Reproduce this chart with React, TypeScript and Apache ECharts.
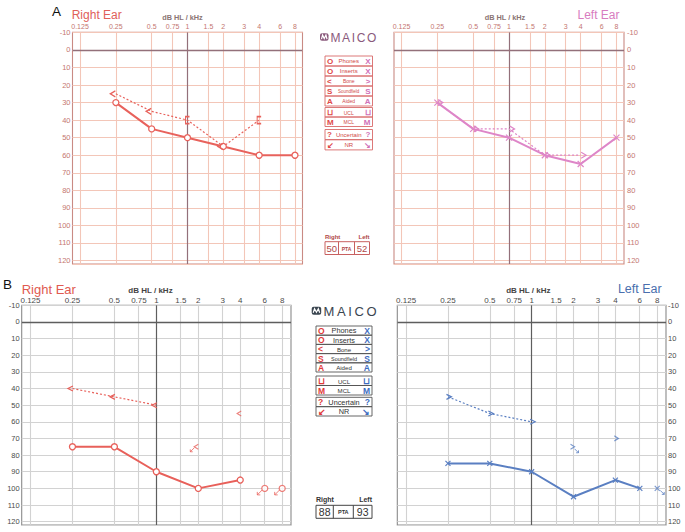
import React, { useEffect, useRef } from 'react';
import * as echarts from 'echarts';

// ---------- axis ticks ----------
const FREQ_TICKS = [0.125, 0.25, 0.5, 0.75, 1, 1.5, 2, 3, 4, 6, 8];
const FREQ_TICK_LABELS = ['0.125', '0.25', '0.5', '0.75', '1', '1.5', '2', '3', '4', '6', '8'];

// ---------- Panel A ----------
const A_RIGHT_AIR_FREQ = [0.25, 0.5, 1, 2, 4, 8];
const A_RIGHT_AIR_DB = [30, 45, 50, 55, 60, 60];
const A_RIGHT_BONE_FREQ = [0.25, 0.5, 1, 2, 4];
const A_RIGHT_BONE_DB = [25, 35, 40, 55, 40];
const A_RIGHT_BONE_MASKED = [false, false, true, false, true];
const A_LEFT_AIR_FREQ = [0.25, 0.5, 1, 2, 4, 8];
const A_LEFT_AIR_DB = [30, 45, 50, 60, 65, 50];
const A_LEFT_BONE_FREQ = [0.25, 0.5, 1, 2, 4];
const A_LEFT_BONE_DB = [30, 45, 45, 60, 60];
const A_PTA = ['50', '52'];

// ---------- Panel B ----------
const B_RIGHT_AIR_FREQ = [0.25, 0.5, 1, 2, 4];
const B_RIGHT_AIR_DB = [75, 75, 90, 100, 95];
const B_RIGHT_AIR_NR_FREQ = [6, 8];
const B_RIGHT_AIR_NR_DB = [100, 100];
const B_RIGHT_BONE_FREQ = [0.25, 0.5, 1];
const B_RIGHT_BONE_DB = [40, 45, 50];
const B_RIGHT_BONE_SINGLE_FREQ = [4];
const B_RIGHT_BONE_SINGLE_DB = [55];
const B_RIGHT_BONE_NR_FREQ = [2];
const B_RIGHT_BONE_NR_DB = [75];
const B_LEFT_AIR_FREQ = [0.25, 0.5, 1, 2, 4, 6];
const B_LEFT_AIR_DB = [85, 85, 90, 105, 95, 100];
const B_LEFT_AIR_NR_FREQ = [8];
const B_LEFT_AIR_NR_DB = [100];
const B_LEFT_BONE_FREQ = [0.25, 0.5, 1];
const B_LEFT_BONE_DB = [45, 55, 60];
const B_LEFT_BONE_SINGLE_FREQ = [4];
const B_LEFT_BONE_SINGLE_DB = [70];
const B_LEFT_BONE_NR_FREQ = [2];
const B_LEFT_BONE_NR_DB = [75];
const B_PTA = ['88', '93'];

// ---------- legend ----------
const LEGEND_LEFT = ['O', 'O', '<', 'S', 'A', '⊔', 'M', '?', '↙'];
const LEGEND_MID = ['Phones', 'Inserts', 'Bone', 'Soundfield', 'Aided', 'UCL', 'MCL', 'Uncertain', 'NR'];
const LEGEND_RIGHT = ['X', 'X', '>', 'S', 'A', '⊔', 'M', '?', '↘'];
const LEGEND_GROUP_SIZES = [5, 2, 2];
const LEGEND_MID_SIZES = [6, 6, 5, 4.5, 5, 5, 5, 6, 6];

const FONT = '"Liberation Sans", Arial, sans-serif';
const X_MIN = -3.21;
const X_MAX = 3.21;
const L2 = (f: number) => Math.log2(f);
const pts = (fs: number[], ds: number[]) => fs.map((f, i) => [L2(f), ds[i]]);

const SYM = {
  x: 'path://M0,0L10,10M10,0L0,10',
  lt: 'path://M10,0L0,5L10,10',
  gt: 'path://M0,0L10,5L0,10',
  br: 'path://M8,0L0,0L0,10L8,10',
  arrowSW: 'path://M10,0L0,10M0,4L0,10L6,10',
  arrowSE: 'path://M0,0L10,10M10,4L10,10L4,10',
};

const THEME_A = { grid: '#f3c6b8', frame: '#c98a84', dark: '#93707a', label: '#c47670' };
const THEME_B = { grid: '#d2d2d2', frame: '#8a8a8a', dark: '#5e5e5e', label: '#4a4a4a' };

const RED_A = '#e8625c';
const PINK_A = '#de86c8';
const RED_B = '#e8605a';
const BLUE_B = '#5a7fc2';

const GRIDS = [
  { left: 72.5, top: 32.4, width: 230, height: 231.6, th: THEME_A, side: 'left', xFont: 7, yFont: 7.5, xMargin: 2, yMargin: 2 },
  { left: 394, top: 32.4, width: 230, height: 231.6, th: THEME_A, side: 'right', xFont: 7, yFont: 7.5, xMargin: 2, yMargin: 3 },
  { left: 21.7, top: 305.3, width: 269.3, height: 219.7, th: THEME_B, side: 'left', xFont: 8, yFont: 7.5, xMargin: 1, yMargin: 2 },
  { left: 397.3, top: 305.3, width: 268.7, height: 219.7, th: THEME_B, side: 'right', xFont: 8, yFont: 7.5, xMargin: 1, yMargin: 2 },
];

function T(text: string, x: number, y: number, size: number, fill: string, opts: any = {}) {
  const align = opts.align || 'left';
  return {
    type: 'text', x, y, silent: true, z: 10,
    style: {
      text, fontSize: size, fill, fontFamily: opts.family || FONT,
      fontWeight: opts.bold ? 'bold' : 'normal',
      align, verticalAlign: 'middle', textAlign: align, textVerticalAlign: 'middle',
    },
  };
}
function R(x: number, y: number, w: number, h: number, stroke: string, lw = 1) {
  return { type: 'rect', silent: true, z: 10, shape: { x, y, width: w, height: h }, style: { stroke, lineWidth: lw, fill: 'none' } };
}

const LETTER_W: any = { M: 0.833, A: 0.667, I: 0.278, C: 0.722, O: 0.778 };
function logo(ix: number, iy: number, iw: number, ih: number, tx: number, size: number, spacing: number, color: string) {
  const els: any[] = [];
  els.push({ type: 'rect', silent: true, z: 10, shape: { x: ix, y: iy, width: iw, height: ih, r: 2 }, style: { fill: color } });
  const my = iy + ih / 2;
  els.push({
    type: 'polyline', silent: true, z: 11,
    shape: { points: [[ix + 1.5, my + 2], [ix + iw * 0.3, my - 2], [ix + iw * 0.5, my + 1.5], [ix + iw * 0.7, my - 2], [ix + iw - 1.5, my + 2]] },
    style: { stroke: '#fff', lineWidth: 1.2, fill: 'none' },
  });
  let cx = tx;
  'MAICO'.split('').forEach((l) => {
    els.push(T(l, cx, my + 0.5, size, color));
    cx += LETTER_W[l] * size + spacing;
  });
  return els;
}

function legendEls(c: any) {
  const els: any[] = [];
  let row = 0;
  LEGEND_GROUP_SIZES.forEach((n, gi) => {
    const g = c.groups[gi];
    for (let k = 0; k < n; k++) {
      const i = row++;
      const y = g.y + k * g.h;
      const cy = y + g.h / 2 + 0.3;
      els.push(R(c.x, y, c.w, g.h, c.border, 0.9));
      els.push(T(LEGEND_LEFT[i], c.x + 2, cy, c.sym, c.left, { bold: true }));
      els.push(T(LEGEND_MID[i], c.x + c.w / 2, cy, LEGEND_MID_SIZES[i] * c.midScale, c.midColor, { align: 'center' }));
      els.push(T(LEGEND_RIGHT[i], c.x + c.w - 2, cy, c.sym, c.right, { bold: true, align: 'right' }));
    }
  });
  return els;
}

function ptaEls(c: any, vals: string[]) {
  const els: any[] = [];
  els.push(T('Right', c.x, c.ly, c.lsize, c.text, { bold: true }));
  els.push(T('Left', c.x + c.w, c.ly, c.lsize, c.text, { bold: true, align: 'right' }));
  els.push(R(c.x, c.y, c.w, c.h, c.border, 1));
  els.push({ type: 'line', silent: true, z: 10, shape: { x1: c.d1, y1: c.y, x2: c.d1, y2: c.y + c.h }, style: { stroke: c.border, lineWidth: 1 } });
  els.push({ type: 'line', silent: true, z: 10, shape: { x1: c.d2, y1: c.y, x2: c.d2, y2: c.y + c.h }, style: { stroke: c.border, lineWidth: 1 } });
  const cy = c.y + c.h / 2 + 0.5;
  els.push(T(vals[0], (c.x + c.d1) / 2, cy, c.nsize, c.text, { align: 'center' }));
  els.push(T('PTA', (c.d1 + c.d2) / 2, cy, c.psize, c.text, { align: 'center', bold: true }));
  els.push(T(vals[1], (c.d2 + c.x + c.w) / 2, cy, c.nsize, c.text, { align: 'center' }));
  return els;
}

function gridLinesSeries(idx: number, th: any) {
  const data: any[] = FREQ_TICKS.map((f) => ({
    xAxis: L2(f),
    lineStyle: { color: f === 1 ? th.dark : th.grid, width: f === 1 ? 1.2 : 1.1, type: 'solid' },
  }));
  data.push({ yAxis: 0, lineStyle: { color: th.dark, width: 1.4, type: 'solid' } });
  return {
    type: 'line', xAxisIndex: idx, yAxisIndex: idx, data: [], z: 1, silent: true,
    markLine: { z: 1, silent: true, animation: false, symbol: ['none', 'none'], label: { show: false }, lineStyle: { type: 'solid' }, data },
  };
}

function lineSeries(idx: number, data: any[], color: string, width: number, dashed: boolean, symbol: string, size: any, offset: number[], itemStyle: any) {
  return {
    type: 'line', xAxisIndex: idx, yAxisIndex: idx, z: 3, data,
    symbol, symbolSize: size, symbolOffset: offset, showAllSymbol: true,
    lineStyle: { color, width, type: dashed ? [2, 2] : 'solid' },
    itemStyle,
  };
}
function scatterSeries(idx: number, data: any[], symbol: string, size: any, offset: number[], itemStyle: any) {
  return { type: 'scatter', xAxisIndex: idx, yAxisIndex: idx, z: 3, data, symbol, symbolSize: size, symbolOffset: offset, itemStyle };
}
const strokeStyle = (c: string, w = 1.2) => ({ color: 'none', borderColor: c, borderWidth: w });
const circleStyle = (c: string) => ({ color: '#fff', borderColor: c, borderWidth: 1.3 });

function buildOption() {
  const xLabelFmt = (v: number) => {
    const i = FREQ_TICKS.findIndex((f) => Math.abs(L2(f) - v) < 1e-3);
    return i >= 0 ? FREQ_TICK_LABELS[i] : '';
  };
  const grid = GRIDS.map((g) => ({
    left: g.left, top: g.top, width: g.width, height: g.height,
    show: true, borderColor: g.th.frame, borderWidth: 1.1, backgroundColor: 'transparent',
  }));
  const xAxis = GRIDS.map((g, i) => ({
    type: 'value', gridIndex: i, position: 'top', min: X_MIN, max: X_MAX,
    axisLine: { show: false }, axisTick: { show: false }, splitLine: { show: false },
    axisLabel: { customValues: FREQ_TICKS.map(L2), formatter: xLabelFmt, fontSize: g.xFont, color: g.th.label, margin: g.xMargin, fontFamily: FONT },
  }));
  const yAxis = GRIDS.map((g, i) => ({
    type: 'value', gridIndex: i, position: g.side, inverse: true, min: -10, max: 122, interval: 10,
    axisLine: { show: false }, axisTick: { show: false },
    axisLabel: { formatter: (v: number) => (v % 10 === 0 ? String(v) : ''), fontSize: g.yFont, color: g.th.label, margin: g.yMargin, fontFamily: FONT },
    splitLine: { show: true, lineStyle: { color: g.th.grid, width: 1.1 } },
  }));

  const aRightBone = A_RIGHT_BONE_FREQ.map((f, i) =>
    A_RIGHT_BONE_MASKED[i]
      ? { value: [L2(f), A_RIGHT_BONE_DB[i]], symbol: SYM.br, symbolSize: [4, 7], symbolOffset: [0, 0] }
      : { value: [L2(f), A_RIGHT_BONE_DB[i]] });

  const series: any[] = [
    ...GRIDS.map((g, i) => gridLinesSeries(i, g.th)),
    // Panel A right
    lineSeries(0, pts(A_RIGHT_AIR_FREQ, A_RIGHT_AIR_DB), RED_A, 2, false, 'circle', 6, [0, 0], circleStyle(RED_A)),
    lineSeries(0, aRightBone, RED_A, 1.2, true, SYM.lt, [5, 6], [-3, 0], strokeStyle(RED_A, 1.3)),
    // Panel A left
    lineSeries(1, pts(A_LEFT_AIR_FREQ, A_LEFT_AIR_DB), PINK_A, 2, false, SYM.x, 6, [0, 0], strokeStyle(PINK_A)),
    lineSeries(1, pts(A_LEFT_BONE_FREQ, A_LEFT_BONE_DB), PINK_A, 1.2, true, SYM.gt, [5, 6], [3, 0], strokeStyle(PINK_A)),
    // Panel B right
    lineSeries(2, pts(B_RIGHT_AIR_FREQ, B_RIGHT_AIR_DB), RED_B, 2, false, 'circle', 6, [0, 0], circleStyle(RED_B)),
    scatterSeries(2, pts(B_RIGHT_AIR_NR_FREQ, B_RIGHT_AIR_NR_DB), 'circle', 6, [0, 0], circleStyle(RED_B)),
    scatterSeries(2, pts(B_RIGHT_AIR_NR_FREQ, B_RIGHT_AIR_NR_DB), SYM.arrowSW, 5, [-5, 4], strokeStyle(RED_B, 1)),
    lineSeries(2, pts(B_RIGHT_BONE_FREQ, B_RIGHT_BONE_DB), RED_B, 1.2, true, SYM.lt, [5, 5], [-2, 0], strokeStyle(RED_B)),
    scatterSeries(2, pts(B_RIGHT_BONE_SINGLE_FREQ, B_RIGHT_BONE_SINGLE_DB), SYM.lt, [4, 5], [-1, 0], strokeStyle(RED_B)),
    scatterSeries(2, pts(B_RIGHT_BONE_NR_FREQ, B_RIGHT_BONE_NR_DB), SYM.lt, [4, 5], [-2, 0], strokeStyle(RED_B)),
    scatterSeries(2, pts(B_RIGHT_BONE_NR_FREQ, B_RIGHT_BONE_NR_DB), SYM.arrowSW, 4, [-6, 3], strokeStyle(RED_B, 1)),
    // Panel B left
    lineSeries(3, pts(B_LEFT_AIR_FREQ, B_LEFT_AIR_DB), BLUE_B, 2, false, SYM.x, 5, [0, 0], strokeStyle(BLUE_B)),
    scatterSeries(3, pts(B_LEFT_AIR_NR_FREQ, B_LEFT_AIR_NR_DB), SYM.x, 5, [0, 0], strokeStyle(BLUE_B)),
    scatterSeries(3, pts(B_LEFT_AIR_NR_FREQ, B_LEFT_AIR_NR_DB), SYM.arrowSE, 4, [5, 4], strokeStyle(BLUE_B, 1)),
    lineSeries(3, pts(B_LEFT_BONE_FREQ, B_LEFT_BONE_DB), BLUE_B, 1.2, true, SYM.gt, [5, 5], [1, 0], strokeStyle(BLUE_B)),
    scatterSeries(3, pts(B_LEFT_BONE_SINGLE_FREQ, B_LEFT_BONE_SINGLE_DB), SYM.gt, [4, 5], [1, 0], strokeStyle(BLUE_B)),
    scatterSeries(3, pts(B_LEFT_BONE_NR_FREQ, B_LEFT_BONE_NR_DB), SYM.gt, [4, 5], [-1, 0], strokeStyle(BLUE_B)),
    scatterSeries(3, pts(B_LEFT_BONE_NR_FREQ, B_LEFT_BONE_NR_DB), SYM.arrowSE, 4, [3, 4], strokeStyle(BLUE_B, 1)),
  ];

  const graphic: any[] = [
    // Panel A headings
    T('A', 52, 11, 13.5, '#111'),
    T('Right Ear', 71.7, 15, 12, '#e0605a'),
    T('dB HL / kHz', 182.5, 17, 7.3, '#8a7474', { align: 'center', bold: true }),
    T('dB HL / kHz', 505, 17, 7.3, '#8a7474', { align: 'center', bold: true }),
    T('Left Ear', 619.5, 15, 12, '#d87cc0', { align: 'right' }),
    // Panel B headings
    T('B', 3, 284.5, 13.5, '#111'),
    T('Right Ear', 21.7, 289, 13, '#e05a50'),
    T('dB HL / kHz', 150.5, 290.5, 8, '#444', { align: 'center', bold: true }),
    T('dB HL / kHz', 528.3, 290.5, 8, '#444', { align: 'center', bold: true }),
    T('Left Ear', 661.7, 288.5, 12.5, '#4a6fae', { align: 'right' }),
    // logos
    ...logo(320, 33.3, 8.5, 7.5, 330.5, 12, 1.6, '#8a5a7c'),
    ...logo(311.7, 306.8, 9.5, 8, 323.5, 13, 2.6, '#3a4550'),
    // legends
    ...legendEls({
      x: 325, w: 47.5, border: '#d86a6a', left: '#e04848', right: '#d070b8', midColor: '#d04848', sym: 8, midScale: 1,
      groups: [{ y: 56, h: 10 }, { y: 107.5, h: 9.5 }, { y: 129.5, h: 10.2 }],
    }),
    ...legendEls({
      x: 316, w: 56, border: '#555', left: '#e03a3a', right: '#3d6cc0', midColor: '#333', sym: 8.5, midScale: 1.22,
      groups: [{ y: 326, h: 9.2 }, { y: 376, h: 9.5 }, { y: 397.3, h: 9.35 }],
    }),
    // PTA boxes
    ...ptaEls({ x: 325, w: 44.5, y: 241.7, h: 12.8, d1: 338.5, d2: 354.5, ly: 236.5, lsize: 6, nsize: 9.5, psize: 5, text: '#b04848', border: '#c86060' }, A_PTA),
    ...ptaEls({ x: 316, w: 56, y: 505.3, h: 13, d1: 333.3, d2: 353.3, ly: 499.5, lsize: 7, nsize: 10.5, psize: 5.5, text: '#333', border: '#444' }, B_PTA),
  ];

  return {
    animation: false,
    backgroundColor: '#ffffff',
    textStyle: { fontFamily: FONT },
    grid, xAxis, yAxis, series, graphic,
  };
}

export default function App() {
  const ref = useRef<HTMLDivElement>(null);
  useEffect(() => {
    const chart = echarts.init(ref.current as HTMLDivElement, null, { renderer: 'svg' });
    chart.setOption(buildOption() as any);
    return () => chart.dispose();
  }, []);
  return <div ref={ref} style={{ position: 'fixed', left: 0, top: 0, width: 685, height: 532, background: '#fff' }} />;
}
